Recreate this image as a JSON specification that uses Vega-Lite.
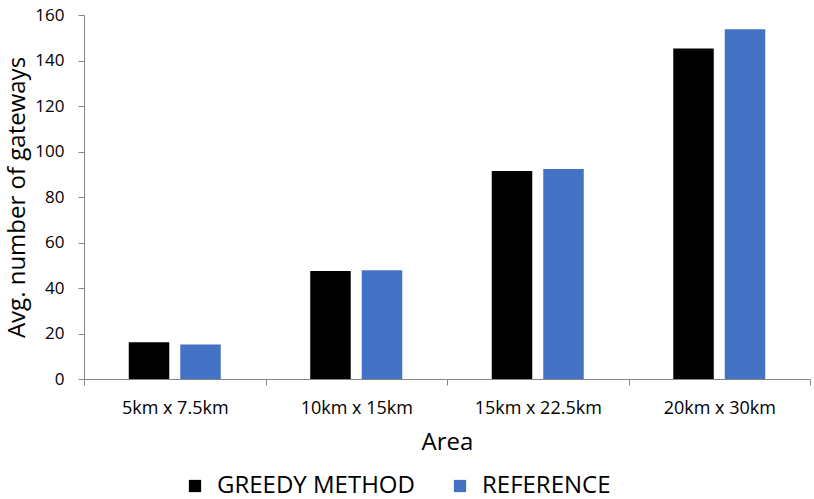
{
  "$schema": "https://vega.github.io/schema/vega-lite/v6.json",
  "width": 726,
  "height": 364,
  "autosize": "none",
  "padding": {"left": 84, "top": 15, "right": 4, "bottom": 120},
  "background": "white",
  "config": {
    "font": "Open Sans",
    "view": {"stroke": null},
    "axis": {"domainColor": "#868686", "tickColor": "#868686", "labelColor": "#000000", "titleColor": "#000000", "labelFont": "Open Sans", "titleFont": "Open Sans", "titleFontWeight": "normal", "grid": false}
  },
  "data": {
    "values": [
      {"area": "5km x 7.5km", "method": "GREEDY METHOD", "value": 16.1},
      {"area": "5km x 7.5km", "method": "REFERENCE", "value": 15.2},
      {"area": "10km x 15km", "method": "GREEDY METHOD", "value": 47.5},
      {"area": "10km x 15km", "method": "REFERENCE", "value": 47.8},
      {"area": "15km x 22.5km", "method": "GREEDY METHOD", "value": 91.4},
      {"area": "15km x 22.5km", "method": "REFERENCE", "value": 92.3},
      {"area": "20km x 30km", "method": "GREEDY METHOD", "value": 145.3},
      {"area": "20km x 30km", "method": "REFERENCE", "value": 153.7}
    ]
  },
  "mark": {"type": "bar"},
  "encoding": {
    "x": {
      "field": "area", "type": "nominal", "sort": null,
      "scale": {"paddingInner": 0, "paddingOuter": 0},
      "axis": {"title": "Area", "labelAngle": 0, "labelFontSize": 18, "titleFontSize": 24, "tickBand": "extent", "tickSize": 6, "labelPadding": 14, "titlePadding": 13}
    },
    "xOffset": {
      "field": "method", "type": "nominal",
      "scale": {"paddingInner": 0.2136, "paddingOuter": 0.869}
    },
    "y": {
      "field": "value", "type": "quantitative",
      "scale": {"domain": [0, 160]},
      "axis": {"title": "Avg. number of gateways", "values": [0, 20, 40, 60, 80, 100, 120, 140, 160], "labelFontSize": 17, "titleFontSize": 24, "tickSize": 6, "labelPadding": 14, "titlePadding": 5}
    },
    "color": {
      "field": "method", "type": "nominal",
      "scale": {"domain": ["GREEDY METHOD", "REFERENCE"], "range": ["#000000", "#4472C4"]},
      "legend": {"title": null, "orient": "none", "direction": "horizontal", "legendX": 99, "legendY": 459, "symbolType": "square", "symbolSize": 150, "symbolStrokeWidth": 0, "labelFontSize": 24, "labelColor": "#000000", "labelFont": "Open Sans", "labelLimit": 0, "columnPadding": 33, "symbolOffset": 0, "labelOffset": 10}
    }
  }
}
